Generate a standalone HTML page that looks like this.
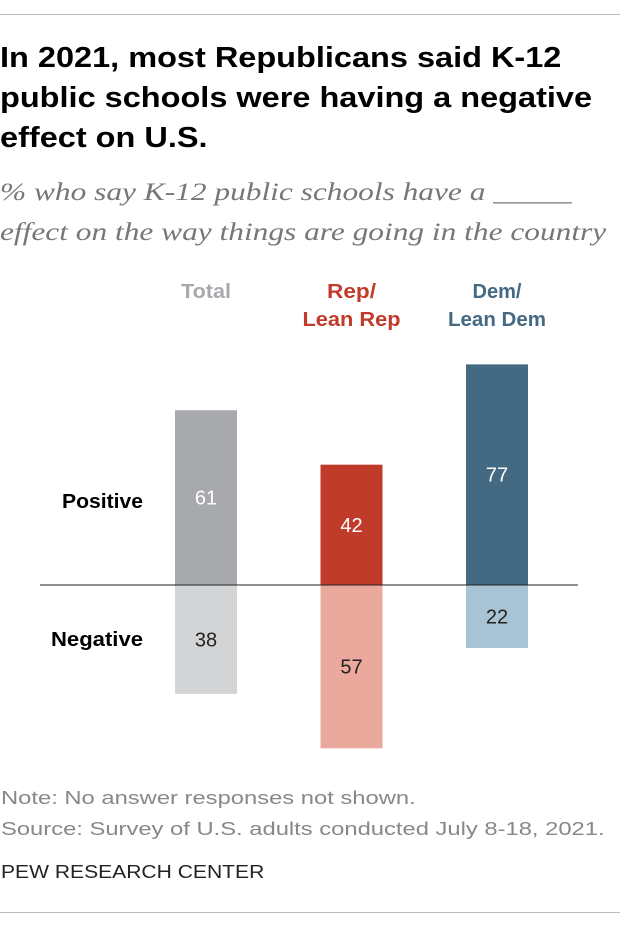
<!DOCTYPE html>
<html><head><meta charset="utf-8"><style>
body{margin:0;width:620px;height:928px;background:#fff;font-family:"Liberation Sans",sans-serif;position:relative;overflow:hidden}
.rule{position:absolute;left:0;width:620px;height:1px;background:#bbb}
#title{position:absolute;left:0;top:38px;width:800px;font-size:29px;font-weight:bold;line-height:40px;color:#000;transform:scaleX(1.12);transform-origin:0 0}
#sub{position:absolute;left:0;top:173px;width:800px;font-size:25px;font-style:italic;color:#777;line-height:40px;font-family:"Liberation Serif",serif;transform:scaleX(1.255);transform-origin:0 0}
.note{position:absolute;left:1px;width:800px;font-size:18px;color:#888;transform:scaleX(1.32);transform-origin:0 0}
</style></head><body>
<div class="rule" style="top:14px"></div>
<div id="title">In 2021, most Republicans said K-12<br>public schools were having a negative<br>effect on U.S.</div>
<div id="sub">% who say K-12 public schools have a _____<br>effect on the way things are going in the country</div>
<svg id="chart" width="620" height="780" style="position:absolute;left:0;top:0"></svg>
<div class="note" style="top:788px">Note: No answer responses not shown.</div>
<div class="note" style="top:819px">Source: Survey of U.S. adults conducted July 8-18, 2021.</div>
<div class="note" style="top:862px;color:#222;transform:scaleX(1.17)">PEW RESEARCH CENTER</div>
<div class="rule" style="top:912px"></div>
<script>
const categories=["Total","Rep/\nLean Rep","Dem/\nLean Dem"];
const positive=[61,42,77];
const negative=[38,57,22];
const posColors=["#a7a9ac","#c13b2b","#436983"];
const negColors=["#d3d4d6","#eba89d","#a8c3d4"];
const headColors=["#a7a9ac","#c13b2b","#436983"];
const svg=document.getElementById('chart');
const NS="http://www.w3.org/2000/svg";
const base=585, k=2.865, bw=62;
const xc=i=>206+i*145.5;
const y=v=>v*k;
function mk(t,a){const e=document.createElementNS(NS,t);for(const n in a)e.setAttribute(n,a[n]);svg.appendChild(e);return e;}
categories.forEach((c,i)=>{
 const lines=c.split("\n");
 lines.forEach((l,j)=>{const t=mk('text',{x:xc(i),y:298+j*28,'text-anchor':'middle','font-size':20.5,'font-weight':'bold',fill:headColors[i],'textLength':l.length>5?98:(l.length>4?50:(l.length>3?49:44)),'lengthAdjust':'spacingAndGlyphs'});t.textContent=l;
 
 });
 const hp=y(positive[i]);
 const r1=mk('rect',{x:xc(i)-bw/2,y:base-hp,width:bw,height:hp,fill:posColors[i]});
 
 
 const hn=y(negative[i]);
 const r2=mk('rect',{x:xc(i)-bw/2,y:base,width:bw,height:hn,fill:negColors[i]});
 
 
 const t1=mk('text',{x:xc(i),y:base-hp/2+7,'text-anchor':'middle','font-size':20,fill:'#fff'});t1.textContent=positive[i];
 
 
 const t2=mk('text',{x:xc(i),y:base+hn/2+7,'text-anchor':'middle','font-size':20,fill:'#222'});t2.textContent=negative[i];
 
 
});
const ax=mk('line',{x1:40,x2:578,y1:base,y2:base,stroke:'#222','stroke-width':1});


const p=mk('text',{x:62,y:508,'font-size':20.5,'font-weight':'bold',fill:'#000',textLength:81,lengthAdjust:'spacingAndGlyphs'});p.textContent="Positive";


const n=mk('text',{x:51,y:646,'font-size':20.5,'font-weight':'bold',fill:'#000',textLength:92,lengthAdjust:'spacingAndGlyphs'});n.textContent="Negative";


</script>
</body></html>
